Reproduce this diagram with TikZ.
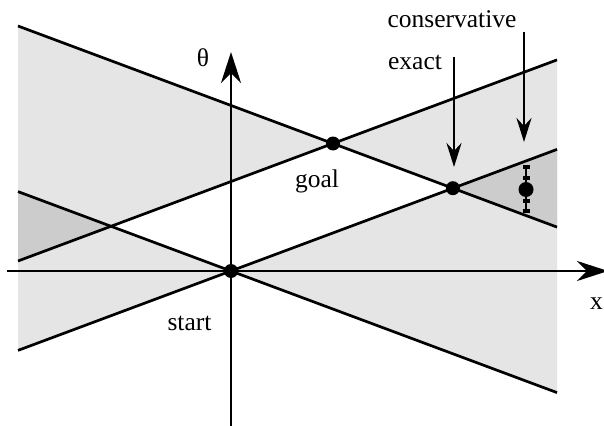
\documentclass[tikz,border=0pt]{standalone}
\usepackage{fontspec}
\setmainfont{Liberation Serif}
\newfontfamily\lblfont{Liberation Serif}
\usetikzlibrary{arrows.meta}
\begin{document}
\begin{tikzpicture}[x=1pt,y=-1pt,
  bound/.style={line width=2.7pt, black},
  lightfill/.style={fill=black!10},
  darkfill/.style={fill=black!20},
  dot/.style={circle, fill=black, inner sep=0pt, minimum size=14pt},
  lbl/.style={font=\lblfont\fontsize{25.5}{30}\selectfont, inner sep=0pt, anchor=base},
  axisline/.style={line width=2.7pt, -{Stealth[length=31pt,width=20pt,inset=10pt]}},
  pointer/.style={line width=2.7pt, -{Stealth[length=24pt,width=15pt,inset=8pt]}},
  errbar/.style={line width=1.3pt},
]
\useasboundingbox (0,0) rectangle (604,425);
% key points
\coordinate (S) at (231,271);
\coordinate (G) at (333,143.5);
\coordinate (E) at (452.9,188.2);
\coordinate (L) at (111.1,226.3);
\coordinate (C) at (526,189.5);
\coordinate (gdl) at (18,26);    \coordinate (gdr) at (557,227.1);
\coordinate (gul) at (18,261);   \coordinate (gur) at (557,59.9);
\coordinate (sdl) at (18,191.6); \coordinate (sdr) at (557,392.6);
\coordinate (sul) at (18,350.4); \coordinate (sur) at (557,149.4);
% fills
\fill[lightfill] (gdl) -- (G) -- (gul) -- cycle;
\fill[lightfill] (G) -- (gur) -- (gdr) -- cycle;
\fill[lightfill] (sdl) -- (S) -- (sul) -- cycle;
\fill[lightfill] (S) -- (sur) -- (sdr) -- cycle;
\fill[darkfill] (sdl) -- (L) -- (gul) -- cycle;
\fill[darkfill] (E) -- (sur) -- (gdr) -- cycle;
% cone boundaries
\draw[bound] (gdl) -- (gdr);
\draw[bound] (gul) -- (gur);
\draw[bound] (sdl) -- (sdr);
\draw[bound] (sul) -- (sur);
% axes
\coordinate (xa0) at (7,271);   \coordinate (xa1) at (608,271);
\coordinate (ta0) at (231,426); \coordinate (ta1) at (231,52);
\draw[axisline] (xa0) -- (xa1);
\draw[axisline] (ta0) -- (ta1);
% points
\node[dot] (start) at (S) {};
\node[dot] (goal) at (G) {};
\node[dot] (exact) at (E) {};
\node[dot, minimum size=15pt] (cons) at (C) {};
% error bar
\coordinate (eb0) at (526,167); \coordinate (eb1) at (526,211);
\draw[errbar] (eb0) -- (eb1);
\foreach \yy in {167,178,201,211}{
  \fill (522.5,\yy-2.3) rectangle (529.5,\yy+2.3);
}
% pointers
\coordinate (pe0) at (454,57);  \coordinate (pe1) at (454,167);
\coordinate (pc0) at (524,32);  \coordinate (pc1) at (524,142);
\draw[pointer] (pe0) -- (pe1);
\draw[pointer] (pc0) -- (pc1);
% labels
\node[lbl] (lcons) at (452,28) {conservative};
\node[lbl] (lexact) at (415,70) {exact};
\node[lbl] (lgoal) at (317,187) {goal};
\node[lbl] (lstart) at (189.5,330) {start};
\node[lbl] (ltheta) at (203,67) {θ};
\node[lbl] (lx) at (596.5,309) {x};
\end{tikzpicture}
\end{document}
